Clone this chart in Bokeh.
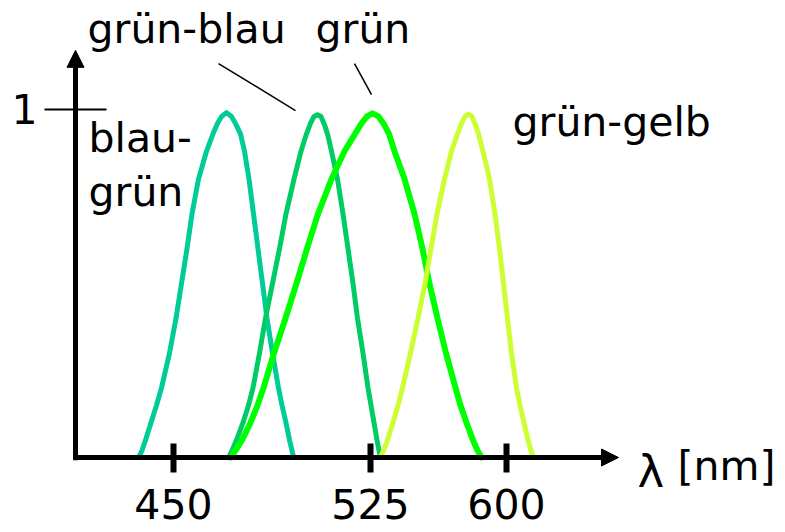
from bokeh.plotting import figure
from bokeh.models import Range1d, Arrow, NormalHead, FixedTicker, ColumnDataSource
from bokeh.embed import file_html
from bokeh.resources import INLINE
from bokeh.core.properties import value

# ---- data (x = position along the wavelength axis, y = relative sensitivity) ----
TICK_POS = [173, 370, 506]
TICK_LABELS = ["450", "525", "600"]

# blau-grün
BG_X = [138, 141.5, 145, 150.5, 156, 161, 169, 175.5, 181, 186.5, 191.5, 198, 206, 212.5, 217, 221, 226,
        231, 235, 240, 244, 248.5, 253, 257.5, 262, 266.5, 272, 278, 281.5, 285.5, 289, 291.5, 293]
BG_Y = [0, 0.02, 0.05, 0.1, 0.15, 0.2, 0.3, 0.4, 0.5, 0.6, 0.7, 0.8, 0.88, 0.93, 0.96, 0.98, 0.991,
        0.98, 0.96, 0.93, 0.88, 0.8, 0.7, 0.6, 0.5, 0.4, 0.3, 0.2, 0.15, 0.1, 0.05, 0.02, 0]

# grün-blau
GB_X = [228, 231.5, 236, 242.5, 248, 252.5, 259, 265, 272, 279, 285.5, 293.5, 300.5, 306, 310, 313.5, 317,
        320.5, 323.5, 327, 331, 337, 342.5, 347.5, 352.5, 357, 362.5, 367.5, 370.5, 373.5, 376.5, 378.5, 380]
GB_Y = [0, 0.02, 0.05, 0.1, 0.15, 0.2, 0.3, 0.4, 0.5, 0.6, 0.7, 0.8, 0.88, 0.93, 0.96, 0.98, 0.985,
        0.98, 0.96, 0.93, 0.88, 0.8, 0.7, 0.6, 0.5, 0.4, 0.3, 0.2, 0.15, 0.1, 0.05, 0.02, 0]

# grün
GR_X = [230, 235, 241.5, 250, 257, 263, 273.5, 285, 296, 306.5, 317.5, 331, 344, 354.5, 361, 366.5, 372,
        378, 383, 388.5, 394, 404, 414, 422, 429, 437, 445.5, 455, 460, 466, 472.5, 477, 481]
GR_Y = [0, 0.02, 0.05, 0.1, 0.15, 0.2, 0.3, 0.4, 0.5, 0.6, 0.7, 0.8, 0.88, 0.93, 0.96, 0.98, 0.989,
        0.98, 0.96, 0.93, 0.88, 0.8, 0.7, 0.6, 0.5, 0.4, 0.3, 0.2, 0.15, 0.1, 0.05, 0.02, 0]

# grün-gelb
GG_X = [380, 383, 387, 392.5, 397.5, 402, 410, 417.5, 424.5, 430.5, 436.5, 444, 451, 457, 461, 464.5, 468,
        471.5, 474.5, 478, 482.5, 489, 494.5, 499, 503, 507, 511, 516, 519.5, 523.5, 527.5, 530.5, 533]
GG_Y = [0, 0.02, 0.05, 0.1, 0.15, 0.2, 0.3, 0.4, 0.5, 0.6, 0.7, 0.8, 0.88, 0.93, 0.96, 0.98, 0.987,
        0.98, 0.96, 0.93, 0.88, 0.8, 0.7, 0.6, 0.5, 0.4, 0.3, 0.2, 0.15, 0.1, 0.05, 0.02, 0]

LABELS = ["grün-blau", "grün", "blau-", "grün", "grün-gelb"]
LABEL_X = [87, 315, 88, 88, 512]
LABEL_Y = [1.230, 1.230, 0.919, 0.764, 0.965]

FONT = "DejaVu Sans"

p = figure(width=777, height=528, output_backend="svg", toolbar_location=None,
           x_range=Range1d(0, 777), y_range=Range1d(-0.2040, 1.3132),
           min_border=0, outline_line_color=None)
p.grid.visible = False

# curves
lk = dict(line_join="round", line_cap="round")
p.line(BG_X, BG_Y, line_color="#00CC99", line_width=5, **lk)
p.line(GB_X, GB_Y, line_color="#00CC66", line_width=5, **lk)
p.line(GR_X, GR_Y, line_color="#00FF00", line_width=6, **lk)
p.line(GG_X, GG_Y, line_color="#CCFF33", line_width=5, **lk)

# axes (placed inside the frame)
xa = p.xaxis[0]
xa.fixed_location = 0
xa.ticker = FixedTicker(ticks=TICK_POS)
xa.major_label_overrides = {t: l for t, l in zip(TICK_POS, TICK_LABELS)}
xa.axis_line_color = None
xa.minor_tick_line_color = None
xa.major_tick_line_color = "black"
xa.major_tick_line_width = 6
xa.major_tick_in = 14
xa.major_tick_out = 15
xa.major_label_standoff = 16
xa.major_label_text_font = FONT
xa.major_label_text_font_size = "41px"
xa.major_label_text_color = "black"

ya = p.yaxis[0]
ya.fixed_location = 75
ya.ticker = FixedTicker(ticks=[1])
ya.axis_line_color = None
ya.minor_tick_line_color = None
ya.major_tick_line_color = "black"
ya.major_tick_line_width = 2
ya.major_tick_in = 31
ya.major_tick_out = 31
ya.major_label_standoff = 7
ya.major_label_text_font = FONT
ya.major_label_text_font_size = "41px"
ya.major_label_text_color = "black"
ya.major_label_orientation = "horizontal"

p.add_layout(Arrow(x_start=73, y_start=0, x_end=618, y_end=0, line_width=5, line_color="black",
                   end=NormalHead(size=17, fill_color="black", line_color="black", line_width=1)))
p.add_layout(Arrow(x_start=75, y_start=-0.008, x_end=75, y_end=1.170, line_width=5, line_color="black",
                   end=NormalHead(size=17, fill_color="black", line_color="black", line_width=1)))

# leader lines
p.segment(x0=[218, 354], y0=[1.132, 1.132], x1=[295, 371], y1=[0.997, 1.043],
          line_color="black", line_width=1.5)

# labels
src = ColumnDataSource(dict(x=LABEL_X, y=LABEL_Y, t=LABELS))
p.text(x="x", y="y", text="t", source=src, text_font=value(FONT), text_font_size="41px",
       text_color="black", text_align="left", text_baseline="alphabetic")

p.text(x=[637], y=[-0.040], text=["λ"], text_font=value(FONT), text_font_size="45px",
       text_color="black", text_align="left", text_baseline="alphabetic")
p.text(x=[677], y=[-0.023], text=["[nm]"], text_font=value(FONT), text_font_size="41px",
       text_color="black", text_align="left", text_baseline="alphabetic")

open("out.html", "w").write(file_html(p, INLINE))
